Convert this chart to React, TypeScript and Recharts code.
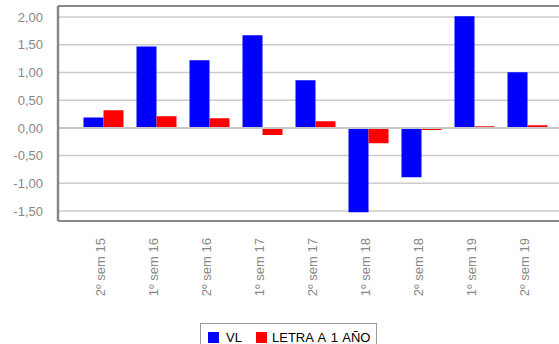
import React from 'react';
import { BarChart, Bar, XAxis, YAxis, CartesianGrid, ReferenceLine } from 'recharts';

const categories = ['2º sem 15', '1º sem 16', '2º sem 16', '1º sem 17', '2º sem 17', '1º sem 18', '2º sem 18', '1º sem 19', '2º sem 19'];
const vlValues = [0.19, 1.47, 1.22, 1.67, 0.86, -1.52, -0.89, 2.015, 1.005];
const letraValues = [0.32, 0.21, 0.175, -0.13, 0.12, -0.276, -0.04, 0.03, 0.05];
const yTicks = [-1.5, -1, -0.5, 0, 0.5, 1, 1.5, 2];
const seriesNames = ['VL', 'LETRA A 1 AÑO'];
const seriesColors = ['#0000ff', '#ff0000'];

const data = categories.map((c, i) => ({ name: c, vl: vlValues[i], letra: letraValues[i] }));

const FONT = '"Liberation Sans", Arial, sans-serif';

const XTick = (props: any) => {
  const { x, y, payload } = props;
  return (
    <g transform={`translate(${x},${y})`}>
      <text
        transform="rotate(-90)"
        x={-9}
        y={-3}
        textAnchor="end"
        dominantBaseline="central"
        fill="#888888"
        fontSize={13}
        fontFamily={FONT}
      >
        {payload.value}
      </text>
    </g>
  );
};

export default function App() {
  return (
    <div style={{ position: 'absolute', left: 0, top: 0, width: 559, height: 344, overflow: 'hidden', background: '#fff' }}>
      <BarChart
        width={559}
        height={344}
        data={data}
        margin={{ top: 6, right: 0, left: 0, bottom: 0 }}
        barGap={0}
        barSize={20}
      >
        <CartesianGrid horizontal vertical={false} stroke="#cccccc" strokeWidth={1.5} />
        <XAxis
          dataKey="name"
          height={123}
          padding={{ left: 18.5, right: 5.5 }}
          axisLine={{ stroke: '#888888', strokeWidth: 2 }}
          tickLine={false}
          tick={<XTick />}
          interval={0}
        />
        <YAxis
          width={58}
          domain={[-1.68, 2.2]}
          ticks={yTicks}
          allowDataOverflow
          axisLine={{ stroke: '#888888', strokeWidth: 2.5 }}
          tickLine={false}
          tickSize={0}
          tickMargin={15}
          tick={{ fill: '#888888', fontSize: 13, fontFamily: FONT }}
          tickFormatter={(v: number) => v.toFixed(2).replace('.', ',')}
        />
        <ReferenceLine y={2.2} stroke="#888888" strokeWidth={2} />
        <ReferenceLine y={0} stroke="#c8c8c8" strokeWidth={2} />
        <Bar dataKey="vl" name={seriesNames[0]} fill={seriesColors[0]} isAnimationActive={false} />
        <Bar dataKey="letra" name={seriesNames[1]} fill={seriesColors[1]} isAnimationActive={false} />
      </BarChart>
      <div
        style={{
          position: 'absolute',
          left: 200,
          top: 323,
          width: 177,
          height: 30,
          border: '1px solid #999999',
          boxSizing: 'border-box',
          fontFamily: FONT,
          fontSize: 13,
          color: '#000',
          wordSpacing: '1.5px',
        }}
      >
        <div style={{ position: 'absolute', left: 7, top: 8, width: 11, height: 11, background: seriesColors[0] }} />
        <div style={{ position: 'absolute', left: 25, top: 6, lineHeight: '15px' }}>{seriesNames[0]}</div>
        <div style={{ position: 'absolute', left: 55, top: 8, width: 11, height: 11, background: seriesColors[1] }} />
        <div style={{ position: 'absolute', left: 71, top: 6, lineHeight: '15px', whiteSpace: 'nowrap' }}>{seriesNames[1]}</div>
      </div>
    </div>
  );
}
